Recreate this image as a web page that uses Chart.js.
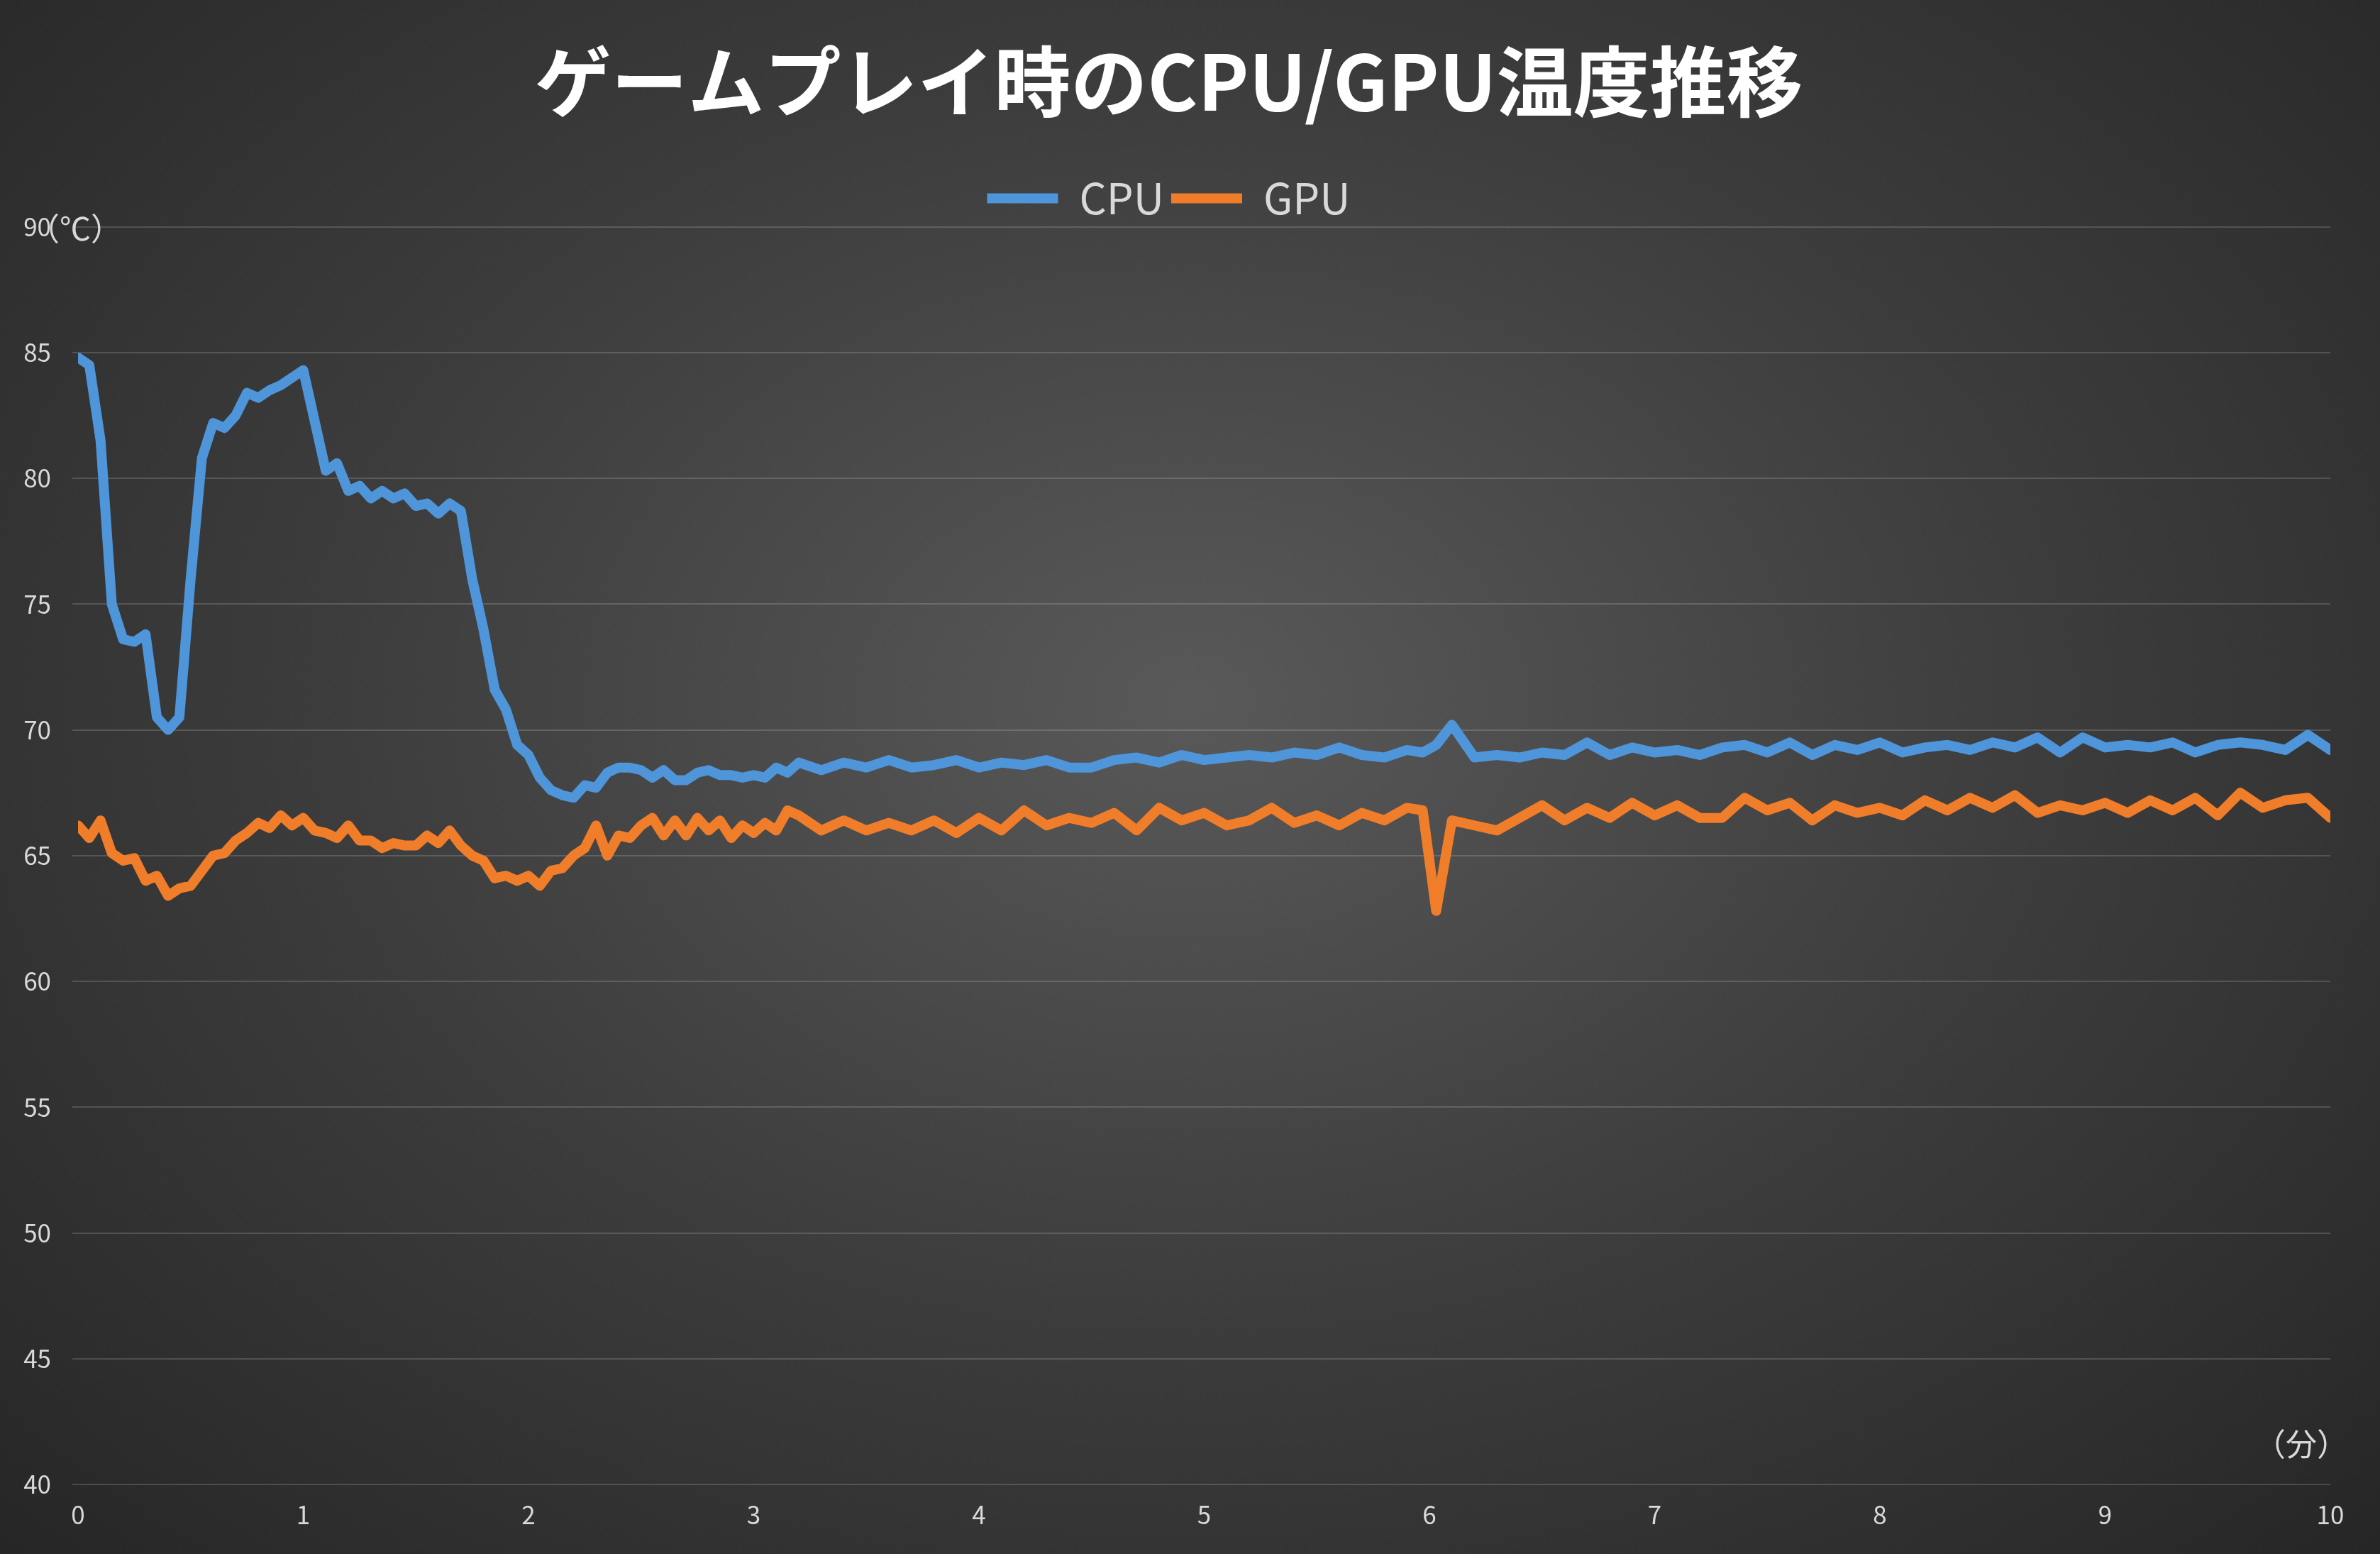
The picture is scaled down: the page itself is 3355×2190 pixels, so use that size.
<!doctype html>
<html lang="ja">
<head>
<meta charset="utf-8">
<title>ゲームプレイ時のCPU/GPU温度推移</title>
<style>
  * { margin: 0; padding: 0; }
  body {
    width: 3355px; height: 2190px; overflow: hidden;
    background: radial-gradient(ellipse at 50% 45%, #595959 0%, #3d3d3d 50%, #262626 100%);
  }
  .box { width: 3355px; height: 2190px; }
</style>
</head>
<body>
<div class="box"><canvas id="myChart"></canvas></div>
<script src="https://cdn.jsdelivr.net/npm/chart.js/dist/chart.umd.min.js"></script>
<script>
// 経過時間（分）
const minutes = [
  0,0.05,0.1,0.15,0.2,0.25,0.3,0.35,0.4,0.45,0.5,0.55,0.6,0.65,0.7,0.75,0.8,0.85,0.9,0.95,
  1,1.05,1.1,1.15,1.2,1.25,1.3,1.35,1.4,1.45,1.5,1.55,1.6,1.65,1.7,1.75,1.8,1.85,1.9,1.95,
  2,2.05,2.1,2.15,2.2,2.25,2.3,2.35,2.4,2.45,2.5,2.55,2.6,2.65,2.7,2.75,2.8,2.85,2.9,2.95,
  3,3.05,3.1,3.15,3.2,
  3.3,3.4,3.5,3.6,3.7,3.8,3.9,4,4.1,4.2,
  4.3,4.4,4.5,4.6,4.7,4.8,4.9,5,5.1,5.2,
  5.3,5.4,5.5,5.6,5.7,5.8,5.9,5.97,6.03,6.1,6.2,
  6.3,6.4,6.5,6.6,6.7,6.8,6.9,7,7.1,7.2,
  7.3,7.4,7.5,7.6,7.7,7.8,7.9,8,8.1,8.2,
  8.3,8.4,8.5,8.6,8.7,8.8,8.9,9,9.1,9.2,
  9.3,9.4,9.5,9.6,9.7,9.8,9.9,10
];
const cpuTemps = [
  84.8,84.5,81.5,75,73.6,73.5,73.8,70.5,70,70.5,76,80.8,82.2,82,82.5,83.4,83.2,83.5,83.7,84,
  84.3,82.3,80.3,80.6,79.5,79.7,79.2,79.5,79.2,79.4,78.9,79,78.6,79,78.7,76,74,71.6,70.8,69.4,
  69,68.1,67.6,67.4,67.3,67.8,67.7,68.3,68.5,68.5,68.4,68.1,68.4,68,68,68.3,68.4,68.2,68.2,68.1,
  68.2,68.1,68.5,68.3,68.7,
  68.4,68.7,68.5,68.8,68.5,68.6,68.8,68.5,68.7,68.6,
  68.8,68.5,68.5,68.8,68.9,68.7,69.0,68.8,68.9,69.0,
  68.9,69.1,69.0,69.3,69.0,68.9,69.2,69.1,69.4,70.2,68.9,
  69.0,68.9,69.1,69.0,69.5,69.0,69.3,69.1,69.2,69.0,
  69.3,69.4,69.1,69.5,69.0,69.4,69.2,69.5,69.1,69.3,
  69.4,69.2,69.5,69.3,69.7,69.1,69.7,69.3,69.4,69.3,
  69.5,69.1,69.4,69.5,69.4,69.2,69.8,69.2
];
const gpuTemps = [
  66.2,65.7,66.4,65.1,64.8,64.9,64.0,64.2,63.4,63.7,63.8,64.4,65.0,65.1,65.6,65.9,66.3,66.1,66.6,66.2,
  66.5,66.0,65.9,65.7,66.2,65.6,65.6,65.3,65.5,65.4,65.4,65.8,65.5,66.0,65.4,65.0,64.8,64.1,64.2,64.0,
  64.2,63.8,64.4,64.5,65.0,65.3,66.2,65.0,65.8,65.7,66.2,66.5,65.8,66.4,65.8,66.5,66.0,66.4,65.7,66.2,
  65.9,66.3,66.0,66.8,66.6,
  66.0,66.4,66.0,66.3,66.0,66.4,65.9,66.5,66.0,66.8,
  66.2,66.5,66.3,66.7,66.0,66.9,66.4,66.7,66.2,66.4,
  66.9,66.3,66.6,66.2,66.7,66.4,66.9,66.8,62.8,66.4,66.2,
  66.0,66.5,67.0,66.4,66.9,66.5,67.1,66.6,67.0,66.5,
  66.5,67.3,66.8,67.1,66.4,67.0,66.7,66.9,66.6,67.2,
  66.8,67.3,66.9,67.4,66.7,67.0,66.8,67.1,66.7,67.2,
  66.8,67.3,66.6,67.5,66.9,67.2,67.3,66.5
];
const seriesNames = ['CPU', 'GPU'];
const unitY = '（℃）';
const unitX = '（分）';

const fontFamily = '"Noto Sans CJK JP", "Noto Sans", sans-serif';

// 単位ラベル
const unitLabels = {
  id: 'unitLabels',
  afterDraw(chart) {
    const ctx = chart.ctx;
    ctx.save();
    ctx.fillStyle = '#d9d9d9';
    ctx.font = '44px ' + fontFamily;
    ctx.textBaseline = 'middle';
    ctx.textAlign = 'left';
    ctx.fillText(unitY, 40, 322);
    ctx.textAlign = 'right';
    ctx.fillText(unitX, 3310, 2035);
    ctx.restore();
  }
};

const toPoints = vals => vals.map((v, i) => ({ x: minutes[i], y: v }));

new Chart(document.getElementById('myChart'), {
  type: 'line',
  data: {
    datasets: [
      { label: seriesNames[0], data: toPoints(cpuTemps), borderColor: '#4e95d9', backgroundColor: '#4e95d9', borderWidth: 14 },
      { label: seriesNames[1], data: toPoints(gpuTemps), borderColor: '#f07d2a', backgroundColor: '#f07d2a', borderWidth: 14 }
    ]
  },
  options: {
    responsive: true,
    maintainAspectRatio: false,
    animation: false,
    elements: {
      line: { tension: 0, borderJoinStyle: 'round', borderCapStyle: 'round' },
      point: { radius: 0 }
    },
    layout: { padding: { left: 10, right: 70, top: 40, bottom: 20 } },
    plugins: {
      title: {
        display: true,
        text: 'ゲームプレイ時のCPU/GPU温度推移',
        color: '#ffffff',
        font: { family: fontFamily, size: 108, weight: 'bold' },
        padding: { top: 10, bottom: 60 }
      },
      legend: {
        labels: {
          color: '#d9d9d9',
          font: { family: fontFamily, size: 60 },
          usePointStyle: true,
          pointStyle: 'line',
          pointStyleWidth: 100,
          boxHeight: 14,
          padding: 10
        },
        padding: 60
      },
      tooltip: { enabled: false }
    },
    scales: {
      x: {
        type: 'linear',
        min: 0, max: 10,
        ticks: { stepSize: 1, color: '#d9d9d9', font: { family: fontFamily, size: 35 }, padding: 14 },
        grid: { display: false },
        border: { display: false }
      },
      y: {
        min: 40, max: 90,
        afterFit(scale) { scale.width = 100; },
        ticks: { stepSize: 5, color: '#d9d9d9', font: { family: fontFamily, size: 35 }, padding: 30 },
        grid: { color: 'rgba(255,255,255,0.16)', lineWidth: 2 },
        border: { display: false }
      }
    }
  },
  plugins: [unitLabels]
});
</script>
</body>
</html>
